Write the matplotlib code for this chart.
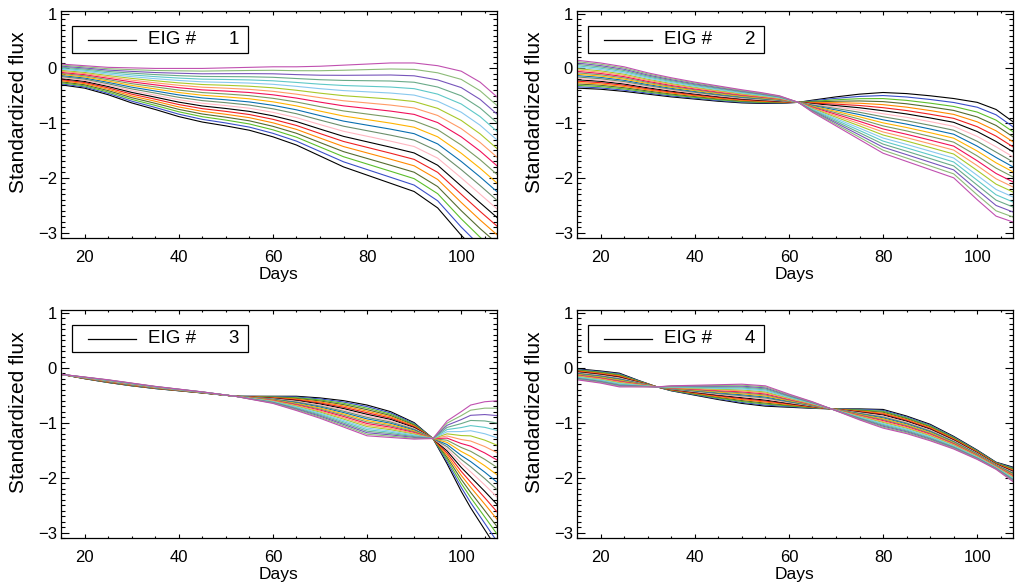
import numpy as np
import matplotlib
matplotlib.use("Agg")
from matplotlib import pyplot as plt
from matplotlib.ticker import MultipleLocator
from matplotlib.patches import Rectangle

plt.rcParams['font.family'] = ['Liberation Sans', 'DejaVu Sans']
plt.rcParams['font.size'] = 12

# reconstruction coefficients (bottom black -> top orchid in panel 1)
coefs = [-1.0, -0.9, -0.8, -0.7, -0.6, -0.5, -0.4, -0.3, -0.2, -0.1, 0.0,
         0.1, 0.2, 0.3, 0.4, 0.5, 0.6, 0.7, 0.8, 0.9, 1.0]
colors = ['#000000', '#3a4fc8', '#5cbf2a', '#556b2f', '#ff8a00', '#ee2020',
          '#000000', '#ffb6c1', '#6b8e6b', '#0a6fb0', '#ffb300', '#7a9a62',
          '#f0105a', '#ff9a66', '#a8c82a', '#88c8ee', '#5ec8c8', '#6aaa88',
          '#7755bb', '#8cbb78', '#c050b0']

# eigenvector 1
days1 = [15, 20, 25, 30, 35, 40, 45, 50, 55, 60, 65, 70, 75, 80, 85, 90, 95, 100, 104, 108]
mean1 = [-0.11, -0.155, -0.23, -0.31, -0.375, -0.44, -0.49, -0.52, -0.555, -0.61, -0.685,
         -0.78, -0.87, -0.935, -1.0, -1.075, -1.25, -1.55, -1.825, -2.125]
eig1 = [0.19, 0.205, 0.25, 0.32, 0.375, 0.44, 0.49, 0.53, 0.575, 0.64, 0.715,
        0.82, 0.93, 1.015, 1.1, 1.175, 1.3, 1.5, 1.575, 1.575]

# eigenvector 2
days2 = [15, 20, 25, 30, 35, 40, 45, 50, 54, 58, 62, 65, 70, 75, 80, 85, 90, 95, 100, 104, 108]
mean2 = [-0.105, -0.14, -0.195, -0.275, -0.345, -0.405, -0.46, -0.51, -0.54, -0.57, -0.62,
         -0.69, -0.785, -0.885, -0.995, -1.08, -1.175, -1.275, -1.51, -1.725, -1.91]
eig2 = [0.255, 0.24, 0.225, 0.195, 0.175, 0.155, 0.14, 0.12, 0.10, 0.07, 0.0,
        -0.11, -0.265, -0.415, -0.555, -0.62, -0.675, -0.725, -0.89, -0.975, -0.91]

# eigenvector 3
days3 = [15, 20, 25, 30, 35, 40, 45, 52, 55, 60, 65, 70, 75, 80, 85, 90, 94, 97, 100, 102, 105, 108]
mean3 = [-0.12, -0.185, -0.245, -0.305, -0.36, -0.405, -0.45, -0.52, -0.545, -0.585, -0.65,
         -0.735, -0.84, -0.96, -1.035, -1.15, -1.29, -1.36, -1.525, -1.615, -1.785, -1.975]
eig3 = [0.0, 0.015, 0.025, 0.025, 0.02, 0.015, 0.01, 0.0, -0.025, -0.065, -0.13,
        -0.185, -0.24, -0.28, -0.235, -0.15, 0.0, 0.39, 0.725, 0.935, 1.165, 1.375]

# eigenvector 4
days4 = [15, 20, 24, 28, 32, 35, 40, 45, 50, 55, 60, 65, 69, 75, 80, 85, 90, 95, 100, 104, 108]
mean4 = [-0.12, -0.17, -0.225, -0.29, -0.35, -0.375, -0.41, -0.445, -0.475, -0.515, -0.6,
         -0.68, -0.75, -0.85, -0.93, -1.04, -1.18, -1.365, -1.585, -1.785, -1.96]
eig4 = [-0.1, -0.11, -0.125, -0.06, 0.0, 0.045, 0.09, 0.135, 0.175, 0.185, 0.12,
        0.06, 0.0, -0.1, -0.17, -0.16, -0.15, -0.115, -0.085, -0.065, -0.14]

panels = [(days1, mean1, eig1), (days2, mean2, eig2),
          (days3, mean3, eig3), (days4, mean4, eig4)]

fig = plt.figure(figsize=(10.17, 5.88), dpi=100)
W, H = 1017.0, 588.0
boxes = [(61, 11, 436, 227), (577, 11, 436, 227),
         (61, 310, 436, 228), (577, 310, 436, 228)]

for i, (d, m, e) in enumerate(panels):
    x0, y0, w, h = boxes[i]
    ax = fig.add_axes([x0 / W, 1 - (y0 + h) / H, w / W, h / H])
    d = np.array(d)
    m = np.array(m)
    e = np.array(e)
    for c, col in zip(coefs, colors):
        ax.plot(d, m + c * e, color=col, lw=0.8)

    ax.set_xlim(15, 107.6)
    ax.set_ylim(-3.1, 1.05)
    ax.xaxis.set_major_locator(MultipleLocator(20))
    ax.xaxis.set_minor_locator(MultipleLocator(5))
    ax.yaxis.set_major_locator(MultipleLocator(1))
    ax.yaxis.set_minor_locator(MultipleLocator(0.1))
    ax.tick_params(which='both', direction='in', top=True, right=True,
                   labelsize=12, width=0.8)
    ax.tick_params(axis='x', which='major', length=3.2, pad=8.5)
    ax.tick_params(axis='x', which='minor', length=1.6)
    ax.tick_params(axis='y', which='major', length=6, pad=3)
    ax.tick_params(axis='y', which='minor', length=3.2)
    for s in ax.spines.values():
        s.set_linewidth(0.9)
    ax.set_xlabel('Days', fontsize=12.5, labelpad=1.5)
    ax.set_ylabel('Standardized flux', fontsize=15, labelpad=7, y=0.553)

    # legend box, drawn like the IDL one
    ax.add_patch(Rectangle((11 / w, 1 - 42 / h), 176 / w, 27 / h,
                           transform=ax.transAxes, fill=False,
                           edgecolor='black', lw=0.9, clip_on=False))
    ax.plot([27 / w, 75 / w], [1 - 28.5 / h, 1 - 28.5 / h], color='black',
            lw=0.9, transform=ax.transAxes)
    ax.text(87 / w, 1 - 28.5 / h, 'EIG #', transform=ax.transAxes,
            ha='left', va='center', fontsize=13.5)
    ax.text(178 / w, 1 - 28.5 / h, '%d' % (i + 1), transform=ax.transAxes,
            ha='right', va='center', fontsize=13.5)

fig.savefig('out.png', dpi=100)
